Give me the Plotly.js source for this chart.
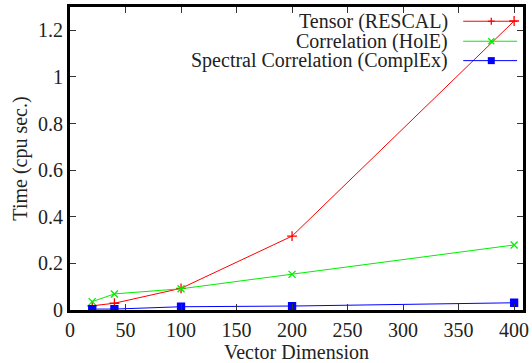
<!DOCTYPE html>
<html><head><meta charset="utf-8">
<script src="https://cdn.plot.ly/plotly-3.0.1.min.js"></script>
<style>html,body{margin:0;padding:0;background:#fff}#c{width:532px;height:363px}</style>
</head><body><div id="c"></div>
<script>
const dims = [20, 40, 100, 200, 400];
const rescal = [0.018, 0.029, 0.093, 0.317, 1.24];
const hole = [0.036, 0.069, 0.091, 0.153, 0.279];
const complex = [0.004, 0.004, 0.014, 0.017, 0.031];
const seriesNames = ['Tensor (RESCAL)', 'Correlation (HolE)', 'Spectral Correlation (ComplEx)'];
const xTicks = [0, 50, 100, 150, 200, 250, 300, 350, 400];
const yTicks = [0, 0.2, 0.4, 0.6, 0.8, 1, 1.2];

const F = 'Liberation Serif, Times New Roman, serif';
const colors = ['#ff0000', '#00ee00', '#0000ff'];
const symbols = ['cross-thin-open', 'x-thin-open', 'square'];
const ys = [rescal, hole, complex];

const traces = ys.map((y, i) => ({
  x: dims, y: y, type: 'scatter', mode: 'lines+markers', name: seriesNames[i],
  line: {color: colors[i], width: 1},
  marker: {symbol: symbols[i], size: i === 2 ? 7 : 7, color: colors[i], line: {color: colors[i], width: 1.3}},
  showlegend: false
}));
const legendY = [0.953, 0.887, 0.823];
const shapes = [];
const annotations = [];
legendY.forEach((yy, i) => {
  shapes.push({type: 'line', xref: 'paper', yref: 'paper', x0: 0.868, x1: 0.987, y0: yy, y1: yy, line: {color: colors[i], width: 1}});
  annotations.push({xref: 'paper', yref: 'paper', x: 0.839, y: yy, xanchor: 'right', yanchor: 'middle', showarrow: false,
    text: seriesNames[i], font: {family: F, size: 20, color: '#222'}});
});
const mx = 0.930;
shapes.push({type: 'line', xref: 'paper', yref: 'paper', xsizemode: 'pixel', ysizemode: 'pixel', xanchor: mx, yanchor: legendY[0], x0: -3.5, x1: 3.5, y0: 0, y1: 0, line: {color: colors[0], width: 1.3}});
shapes.push({type: 'line', xref: 'paper', yref: 'paper', xsizemode: 'pixel', ysizemode: 'pixel', xanchor: mx, yanchor: legendY[0], x0: 0, x1: 0, y0: -3.5, y1: 3.5, line: {color: colors[0], width: 1.3}});
shapes.push({type: 'line', xref: 'paper', yref: 'paper', xsizemode: 'pixel', ysizemode: 'pixel', xanchor: mx, yanchor: legendY[1], x0: -3, x1: 3, y0: -3, y1: 3, line: {color: colors[1], width: 1.3}});
shapes.push({type: 'line', xref: 'paper', yref: 'paper', xsizemode: 'pixel', ysizemode: 'pixel', xanchor: mx, yanchor: legendY[1], x0: -3, x1: 3, y0: 3, y1: -3, line: {color: colors[1], width: 1.3}});
shapes.push({type: 'rect', xref: 'paper', yref: 'paper', xsizemode: 'pixel', ysizemode: 'pixel', xanchor: mx, yanchor: legendY[2], x0: -3.5, x1: 3.5, y0: -3.5, y1: 3.5, fillcolor: colors[2], line: {width: 0}});

const layout = {
  width: 532, height: 363,
  margin: {l: 70, r: 9, t: 7, b: 53},
  paper_bgcolor: '#fff', plot_bgcolor: '#fff',
  showlegend: false,
  font: {family: F, size: 20, color: '#222'},
  xaxis: {
    range: [0, 408], tickvals: xTicks, ticktext: xTicks.map(String),
    ticks: 'inside', ticklen: 6, tickwidth: 1, tickcolor: '#333',
    showline: true, linewidth: 3, linecolor: '#000', mirror: 'ticks',
    showgrid: false, zeroline: false,
    tickfont: {family: F, size: 20, color: '#222'},
    title: {text: 'Vector Dimension', font: {family: F, size: 20, color: '#222'}, standoff: 2}
  },
  yaxis: {
    range: [0, 1.3], tickvals: yTicks, ticktext: yTicks.map(String),
    ticks: 'inside', ticklen: 6, tickwidth: 1, tickcolor: '#333',
    showline: true, linewidth: 3, linecolor: '#000', mirror: 'ticks',
    showgrid: false, zeroline: false,
    tickfont: {family: F, size: 20, color: '#222'},
    title: {text: 'Time (cpu sec.)', font: {family: F, size: 20, color: '#222'}, standoff: 6}
  },
  shapes: shapes,
  annotations: annotations
};
Plotly.newPlot('c', traces, layout, {displayModeBar: false, staticPlot: true});
</script></body></html>
